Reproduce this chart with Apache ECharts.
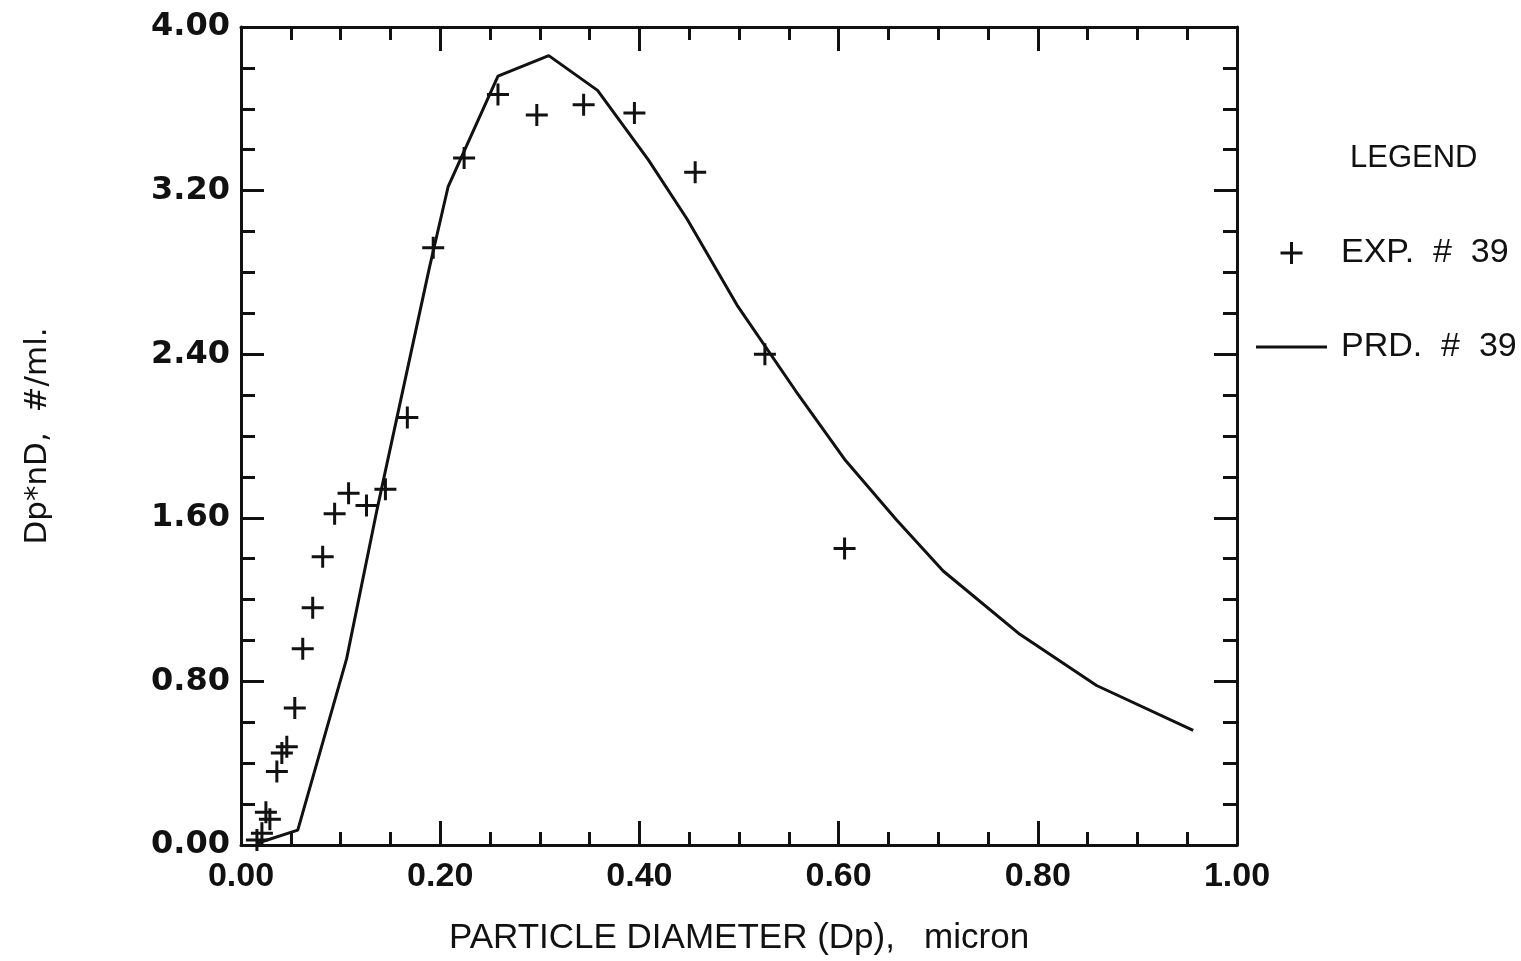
<!DOCTYPE html>
<html>
<head>
<meta charset="utf-8">
<title>Particle size distribution, EXP. # 39</title>
<script src="https://cdn.jsdelivr.net/npm/echarts@6/dist/echarts.min.js"></script>
<style>
  html, body { margin: 0; padding: 0; background: #fff; }
  #chart { width: 1521px; height: 961px; }
</style>
</head>
<body>
<div id="chart"></div>
<script>
// Measured distribution (EXP. # 39): particle diameter in micron vs Dp*nD
const EXP_X = [0.016, 0.021, 0.025, 0.029, 0.036, 0.041, 0.046, 0.054, 0.062, 0.072, 0.082, 0.094, 0.108,
               0.126, 0.145, 0.167, 0.193, 0.224, 0.258, 0.297, 0.344, 0.395, 0.456, 0.526, 0.606];
const EXP_Y = [0.024, 0.058, 0.16, 0.126, 0.36, 0.45, 0.48, 0.67, 0.96, 1.16, 1.41, 1.62, 1.72,
               1.66, 1.74, 2.09, 2.92, 3.36, 3.67, 3.57, 3.62, 3.58, 3.29, 2.40, 1.45];

// Predicted distribution (PRD. # 39)
const PRD_X = [0.017, 0.057, 0.106, 0.137, 0.189, 0.208, 0.258, 0.309, 0.358, 0.409, 0.448, 0.498,
               0.557, 0.607, 0.658, 0.705, 0.782, 0.859, 0.956];
const PRD_Y = [0.01, 0.073, 0.91, 1.65, 2.82, 3.22, 3.76, 3.86, 3.69, 3.35, 3.06, 2.64,
               2.22, 1.88, 1.59, 1.34, 1.03, 0.78, 0.56];

const SERIES_NAMES = ['EXP.  #  39', 'PRD.  #  39'];
const X_NAME = 'PARTICLE DIAMETER (Dp),   micron';
const Y_NAME = 'Dp*nD,  #/ml.';

const INK = '#111';
const PLUS = 'path://M9.5,0h3v9.5h9.5v3h-9.5v9.5h-3v-9.5h-9.5v-3h9.5z';
const DASH = 'path://M0,0h71v3h-71z';

function frameAxis(extra) {
  return Object.assign({
    type: 'value',
    axisLine: { show: true, onZero: false, lineStyle: { color: INK, width: 3 } },
    axisTick: { show: true, inside: true, length: 24, lineStyle: { color: INK, width: 3 } },
    minorTick: { show: true, splitNumber: 4, length: 13, lineStyle: { color: INK, width: 3 } },
    splitLine: { show: false },
    minorSplitLine: { show: false },
    axisLabel: { show: false }
  }, extra);
}

const chart = echarts.init(document.getElementById('chart'), null, { renderer: 'canvas' });

chart.setOption({
  backgroundColor: '#fff',
  animation: false,
  title: {
    text: 'LEGEND',
    left: 1345,
    top: 138,
    textStyle: { fontFamily: 'Liberation Sans', fontSize: 31, fontWeight: 'normal', color: INK }
  },
  legend: {
    orient: 'vertical',
    left: 1251,
    top: 231,
    itemWidth: 71,
    itemHeight: 22,
    itemGap: 60,
    selectedMode: false,
    textStyle: {
      fontFamily: 'Liberation Sans', fontSize: 34, color: INK,
      lineHeight: 34, padding: [0, 0, 0, 9]
    },
    data: [
      { name: SERIES_NAMES[0], icon: PLUS },
      { name: SERIES_NAMES[1], icon: DASH }
    ]
  },
  grid: { left: 241, right: 284, top: 27, bottom: 111, containLabel: false },
  xAxis: [
    frameAxis({
      position: 'bottom', min: 0, max: 1, interval: 0.2,
      name: X_NAME, nameLocation: 'middle', nameGap: 76,
      nameTextStyle: { fontFamily: 'Liberation Sans', fontSize: 35, color: INK },
      axisLabel: {
        show: true, margin: 15, color: INK,
        fontFamily: 'Liberation Sans', fontWeight: 'bold', fontSize: 34,
        formatter: v => v.toFixed(2)
      }
    }),
    frameAxis({ position: 'top', min: 0, max: 1, interval: 0.2 })
  ],
  yAxis: [
    frameAxis({
      position: 'left', min: 0, max: 4, interval: 0.8,
      axisTick: { show: true, inside: true, length: 23, lineStyle: { color: INK, width: 3 } },
      minorTick: { show: true, splitNumber: 4, length: 14, lineStyle: { color: INK, width: 3 } },
      name: Y_NAME, nameLocation: 'middle', nameGap: 188, nameRotate: 90,
      nameTextStyle: { fontFamily: 'DejaVu Sans', fontSize: 31, color: INK },
      axisLabel: {
        show: true, margin: 11, color: INK,
        fontFamily: 'DejaVu Sans', fontWeight: 'bold', fontSize: 32,
        formatter: v => v.toFixed(2)
      }
    }),
    frameAxis({
      position: 'right', min: 0, max: 4, interval: 0.8,
      axisTick: { show: true, inside: true, length: 23, lineStyle: { color: INK, width: 3 } },
      minorTick: { show: true, splitNumber: 4, length: 14, lineStyle: { color: INK, width: 3 } }
    })
  ],
  series: [
    {
      name: SERIES_NAMES[0],
      type: 'scatter',
      symbol: PLUS,
      symbolSize: 22,
      symbolKeepAspect: true,
      itemStyle: { color: INK, opacity: 1 },
      data: EXP_X.map((x, i) => [x, EXP_Y[i]]),
      z: 3
    },
    {
      name: SERIES_NAMES[1],
      type: 'line',
      symbol: 'none',
      smooth: false,
      lineStyle: { color: INK, width: 3 },
      itemStyle: { color: INK },
      data: PRD_X.map((x, i) => [x, PRD_Y[i]]),
      z: 2
    }
  ]
});
</script>
</body>
</html>
